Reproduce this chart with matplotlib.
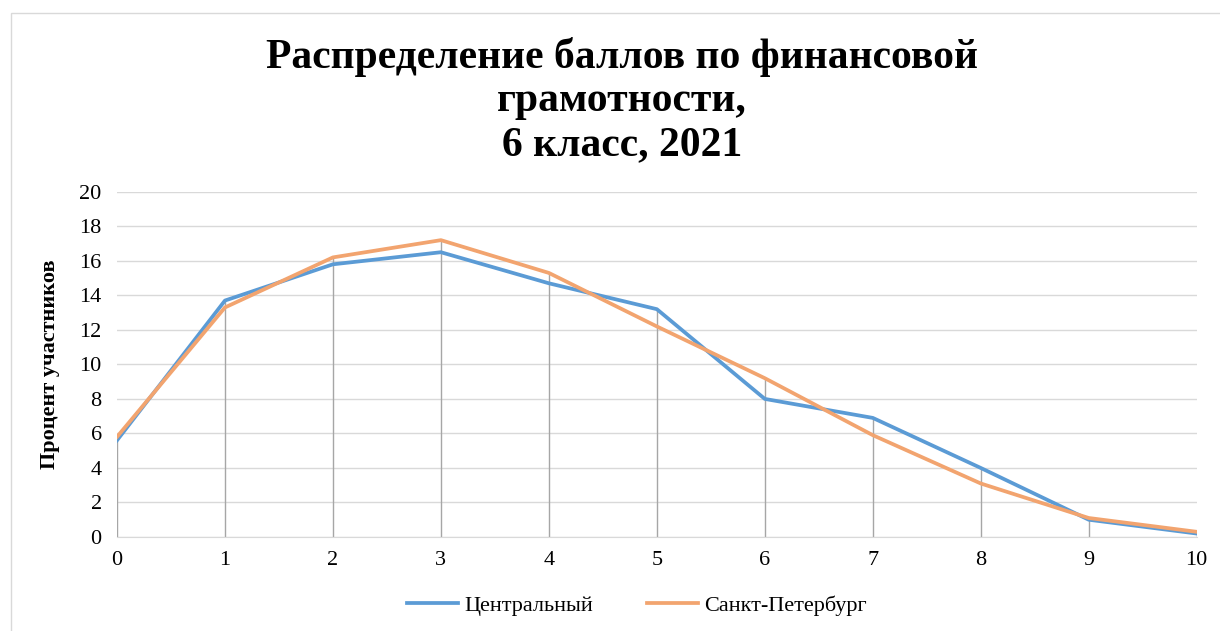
import matplotlib.pyplot as plt
from matplotlib.patches import Rectangle

scores = [0, 1, 2, 3, 4, 5, 6, 7, 8, 9, 10]
central = [5.6, 13.7, 15.8, 16.5, 14.7, 13.2, 8.0, 6.9, 4.0, 1.0, 0.2]
spb = [5.8, 13.3, 16.2, 17.2, 15.3, 12.2, 9.2, 5.9, 3.1, 1.1, 0.3]

plt.rcParams['font.family'] = ['Liberation Serif', 'DejaVu Serif']

fig = plt.figure(figsize=(12.2, 6.31), dpi=100)
ax = fig.add_axes([0.0959, 0.149, 0.885, 0.547])

# drop lines from each point down to the axis
tops = [max(a, b) for a, b in zip(central, spb)]
ax.vlines(scores, 0, tops, color='#a6a6a6', linewidth=1, zorder=1)

ax.plot(scores, central, color='#5B9BD5', linewidth=2.7, label='Центральный', zorder=3)
ax.plot(scores, spb, color='#F2A46F', linewidth=2.7, label='Санкт-Петербург', zorder=4)

ax.set_xlim(0, 10)
ax.set_ylim(0, 20)
ax.set_xticks(scores)
ax.set_yticks(range(0, 21, 2))
ax.yaxis.grid(True, color='#d9d9d9', linewidth=1)
ax.set_axisbelow(True)
for s in ['top', 'right', 'left']:
    ax.spines[s].set_visible(False)
ax.spines['bottom'].set_color('#d9d9d9')
ax.tick_params(axis='both', length=0, labelsize=16)
ax.tick_params(axis='y', pad=11)
ax.tick_params(axis='x', pad=10)

ax.set_ylabel('Процент участников', fontsize=16, fontweight='bold', labelpad=14)

fig.text(0.51, 0.841, 'Распределение баллов по финансовой\nграмотности,\n6 класс, 2021',
         ha='center', va='center', fontsize=30, fontweight='bold', linespacing=1.2)

fig.legend(loc='center', bbox_to_anchor=(0.522, 0.04), ncol=2, frameon=False,
           fontsize=16, handlelength=2.3, handletextpad=0.3, columnspacing=2.4)

fig.patches.append(Rectangle((0.009, -0.01), 1.2, 0.99, transform=fig.transFigure,
                             fill=False, edgecolor='#d9d9d9', linewidth=1))

fig.savefig('out.png', dpi=100)
